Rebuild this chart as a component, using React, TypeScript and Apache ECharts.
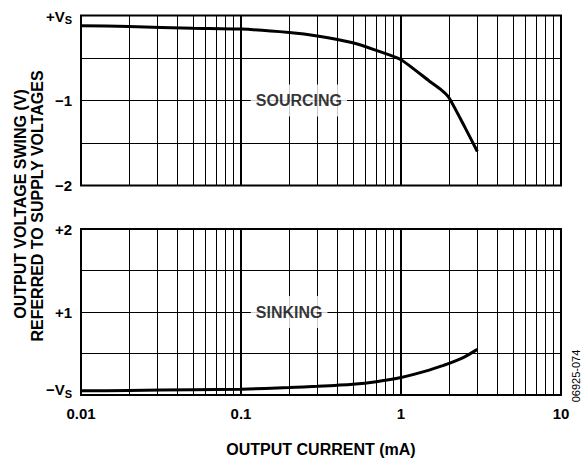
import React, { useEffect, useRef } from 'react';
import * as echarts from 'echarts';

// Output current (mA) sample points
const currents = [0.01, 0.02, 0.05, 0.1, 0.2, 0.3, 0.5, 0.7, 1, 1.5, 1.8, 2, 2.5, 3];
// Sourcing: output swing referred to +VS (V)
const sourcingSwing = [-0.12, -0.13, -0.15, -0.16, -0.2, -0.24, -0.32, -0.41, -0.52, -0.77, -0.88, -0.97, -1.31, -1.6];
// Sinking: output swing referred to -VS (V)
const sinkingSwing = [0.05, 0.055, 0.063, 0.07, 0.09, 0.105, 0.13, 0.16, 0.21, 0.3, 0.35, 0.38, 0.46, 0.55];

// minor log grid lines
const minorGridCurrents = [
  0.02, 0.03, 0.04, 0.05, 0.06, 0.07, 0.08, 0.09,
  0.2, 0.3, 0.4, 0.5, 0.6, 0.7, 0.8, 0.9,
  2, 3, 4, 5, 6, 7, 8, 9,
];

const topTickValues = [0, -1, -2];
const topTickLabels = ['{v|+V}{s|S}', '−1', '−2'];
const bottomTickValues = [2, 1, 0];
const bottomTickLabels = ['+2', '+1', '{w|−V}{t|S}'];

const annotations = [
  { name: 'SOURCING', x: 0.23, y: -1, grid: 0 },
  { name: 'SINKING', x: 0.2, y: 1, grid: 1 },
];

const FONT = "'Liberation Sans', Arial, Helvetica, sans-serif";

export default function App() {
  const ref = useRef<HTMLDivElement>(null);
  useEffect(() => {
    document.body.style.margin = '0';
    const chart = echarts.init(ref.current!, null, { renderer: 'svg' });

    const fmtY = (values: number[], labels: string[]) => (v: number) => {
      const i = values.findIndex((t) => Math.abs(t - v) < 1e-6);
      return i >= 0 ? labels[i] : '';
    };
    const base = { fontWeight: 'bold', fontFamily: FONT, color: '#000' };
    const rich = {
      v: { ...base, fontSize: 15, padding: [2, 0, 0, 0] },
      s: { ...base, fontSize: 11, padding: [9, 0, 0, 0] },
      w: { ...base, fontSize: 15, padding: [0, 0, 12, 0] },
      t: { ...base, fontSize: 11, padding: [0, 0, 3, 0] },
    };

    const xAxisBase = (gridIndex: number, showLabels: boolean) => ({
      type: 'log',
      logBase: 10,
      min: 0.01,
      max: 10,
      gridIndex,
      axisLine: { show: false },
      axisTick: { show: false },
      splitLine: { show: true, lineStyle: { color: '#000', width: 2 } },
      axisLabel: {
        show: showLabels,
        color: '#000',
        fontSize: 15,
        fontWeight: 'bold',
        fontFamily: FONT,
        margin: 11,
        formatter: (v: number) => String(Number(v.toPrecision(3))),
      },
      name: showLabels ? 'OUTPUT CURRENT (mA)' : '',
      nameLocation: 'middle',
      nameGap: 46,
      nameTextStyle: { color: '#000', fontSize: 16, fontWeight: 'bold', fontFamily: FONT },
    });

    const yAxisBase = (gridIndex: number, min: number, max: number, values: number[], labels: string[]) => ({
      type: 'value',
      gridIndex,
      min,
      max,
      interval: 0.5,
      axisLine: { show: false },
      axisTick: { show: false },
      splitLine: { show: true, lineStyle: { color: '#000', width: 1 } },
      axisLabel: {
        color: '#000',
        fontSize: 15,
        fontWeight: 'bold',
        fontFamily: FONT,
        margin: 9,
        formatter: fmtY(values, labels),
        rich,
      },
    });

    const minorLines = (gridIndex: number) => ({
      type: 'line',
      xAxisIndex: gridIndex,
      yAxisIndex: gridIndex,
      data: [],
      silent: true,
      markLine: {
        silent: true,
        symbol: 'none',
        label: { show: false },
        lineStyle: { color: '#000', width: 1, type: 'solid' },
        data: minorGridCurrents.map((c) => ({ xAxis: c })),
      },
    });

    const curve = (gridIndex: number, ys: number[]) => ({
      type: 'line',
      xAxisIndex: gridIndex,
      yAxisIndex: gridIndex,
      data: currents.map((c, i) => [c, ys[i]]),
      showSymbol: false,
      smooth: 0.2,
      lineStyle: { color: '#000', width: 3 },
      z: 4,
    });

    const labelSeries = annotations.map((a) => ({
      type: 'scatter',
      xAxisIndex: a.grid,
      yAxisIndex: a.grid,
      symbolSize: 1,
      itemStyle: { color: 'rgba(0,0,0,0)' },
      z: 6,
      data: [{ name: a.name, value: [a.x, a.y] }],
      label: {
        show: true,
        position: 'inside',
        formatter: '{b}',
        color: '#000',
        fontSize: 16,
        fontWeight: 'bold',
        fontFamily: FONT,
        backgroundColor: '#fff',
        padding: [8, 5, 8, 5],
      },
    }));

    chart.setOption({
      animation: false,
      backgroundColor: '#fff',
      grid: [
        { left: 81, top: 15.5, width: 480, height: 170, show: true, borderColor: '#000', borderWidth: 2, backgroundColor: 'transparent' },
        { left: 81, top: 229, width: 480, height: 170, show: true, borderColor: '#000', borderWidth: 2, backgroundColor: 'transparent' },
      ],
      xAxis: [xAxisBase(0, false), xAxisBase(1, true)],
      yAxis: [
        yAxisBase(0, -2, 0, topTickValues, topTickLabels),
        yAxisBase(1, 0, 2, bottomTickValues, bottomTickLabels),
      ],
      graphic: [
        {
          type: 'text',
          x: 20,
          y: 204,
          rotation: Math.PI / 2,
          style: {
            text: 'OUTPUT VOLTAGE SWING (V)',
            fill: '#000',
            font: `bold 16px ${FONT}`,
            textAlign: 'center',
            textVerticalAlign: 'middle',
          },
        },
        {
          type: 'text',
          x: 37,
          y: 206,
          rotation: Math.PI / 2,
          style: {
            text: 'REFERRED TO SUPPLY VOLTAGES',
            fill: '#000',
            font: `bold 16px ${FONT}`,
            textAlign: 'center',
            textVerticalAlign: 'middle',
          },
        },
        {
          type: 'text',
          x: 576,
          y: 376,
          rotation: Math.PI / 2,
          style: {
            text: '06925-074',
            fill: '#000',
            font: `11px ${FONT}`,
            textAlign: 'center',
            textVerticalAlign: 'middle',
          },
        },
      ],
      series: [
        minorLines(0),
        minorLines(1),
        curve(0, sourcingSwing),
        curve(1, sinkingSwing),
        ...labelSeries,
      ],
    });
    return () => chart.dispose();
  }, []);
  return <div ref={ref} style={{ width: 587, height: 458 }} />;
}
